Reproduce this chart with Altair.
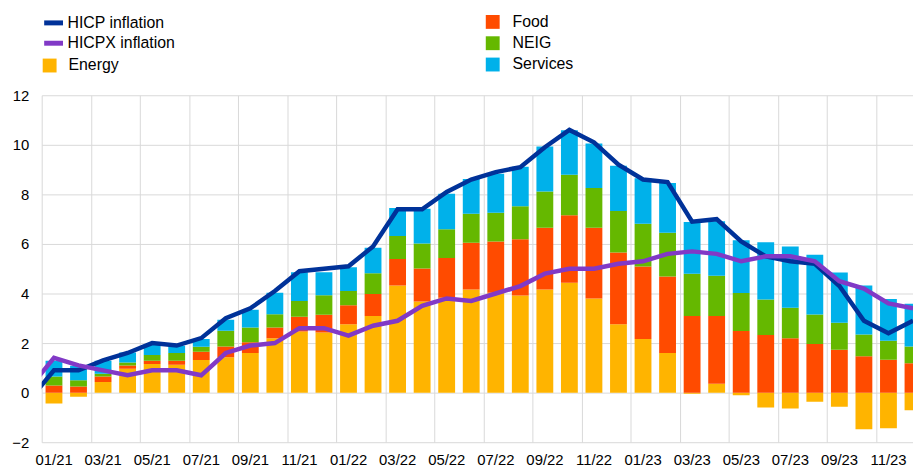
import json
import altair as alt
import pandas as pd

# ---------------- data ----------------
month_labels = [
    "01/21", "02/21", "03/21", "04/21", "05/21", "06/21", "07/21", "08/21", "09/21", "10/21", "11/21", "12/21",
    "01/22", "02/22", "03/22", "04/22", "05/22", "06/22", "07/22", "08/22", "09/22", "10/22", "11/22", "12/22",
    "01/23", "02/23", "03/23", "04/23", "05/23", "06/23", "07/23", "08/23", "09/23", "10/23", "11/23", "12/23",
]
tick_labels = month_labels[::2]

# headline and core inflation (Dec 2020 value first, then Jan 2021 .. Dec 2023)
hicp = [-0.3,
        0.9, 0.9, 1.3, 1.6, 2.0, 1.9, 2.2, 3.0, 3.4, 4.1, 4.9, 5.0,
        5.1, 5.9, 7.4, 7.4, 8.1, 8.6, 8.9, 9.1, 9.9, 10.6, 10.1, 9.2,
        8.6, 8.5, 6.9, 7.0, 6.1, 5.5, 5.3, 5.2, 4.3, 2.9, 2.4, 2.9]
hicpx = [0.2,
         1.4, 1.1, 0.9, 0.7, 0.9, 0.9, 0.7, 1.6, 1.9, 2.0, 2.6, 2.6,
         2.3, 2.7, 2.9, 3.5, 3.8, 3.7, 4.0, 4.3, 4.8, 5.0, 5.0, 5.2,
         5.3, 5.6, 5.7, 5.6, 5.3, 5.5, 5.5, 5.3, 4.5, 4.2, 3.6, 3.4]

# contributions (percentage points), Jan 2021 .. Dec 2023
energy = [-0.44, -0.17, 0.43, 0.96, 1.16, 1.13, 1.32, 1.43, 1.60, 2.19, 2.47, 2.43,
          2.76, 3.09, 4.32, 3.68, 3.83, 4.16, 4.03, 3.92, 4.16, 4.43, 3.80, 2.76,
          2.16, 1.60, -0.05, 0.36, -0.11, -0.60, -0.64, -0.37, -0.57, -1.48, -1.44, -0.71]
food = [0.29, 0.25, 0.22, 0.13, 0.13, 0.16, 0.33, 0.43, 0.43, 0.44, 0.59, 0.71,
        0.77, 0.89, 1.07, 1.33, 1.60, 1.89, 2.07, 2.27, 2.49, 2.73, 2.85, 2.89,
        2.93, 3.09, 3.09, 2.73, 2.49, 2.33, 2.19, 1.96, 1.73, 1.47, 1.33, 1.19]
neig = [0.36, 0.25, 0.11, 0.13, 0.23, 0.31, 0.20, 0.64, 0.60, 0.53, 0.64, 0.79,
        0.57, 0.84, 0.93, 1.01, 1.16, 1.17, 1.16, 1.33, 1.47, 1.63, 1.61, 1.68,
        1.73, 1.76, 1.71, 1.63, 1.53, 1.43, 1.24, 1.19, 1.09, 0.88, 0.76, 0.67]
services = [0.64, 0.58, 0.53, 0.40, 0.44, 0.29, 0.31, 0.44, 0.71, 0.87, 1.16, 0.93,
            0.96, 1.03, 1.13, 1.40, 1.44, 1.40, 1.57, 1.60, 1.81, 1.80, 1.79, 1.83,
            1.83, 2.01, 2.09, 2.20, 2.13, 2.31, 2.47, 2.41, 2.03, 1.97, 1.69, 1.73]

components = ["Energy", "Food", "NEIG", "Services"]
component_colors = ["#FFB400", "#FF4B00", "#65B800", "#00B1EA"]
line_names = ["HICP inflation", "HICPX inflation"]
line_colors = ["#003299", "#8139C6"]

# ---------------- tables ----------------
bar_rows = []
for i, m in enumerate(month_labels):
    for k, (name, vals) in enumerate(zip(components, [energy, food, neig, services])):
        bar_rows.append({"idx": i, "month": m, "component": name, "order": k, "value": vals[i]})
bars_df = pd.DataFrame(bar_rows)

line_rows = []
for name, vals in zip(line_names, [hicp, hicpx]):
    for j, v in enumerate(vals):
        line_rows.append({"idx": j - 1, "series": name, "value": v})
lines_df = pd.DataFrame(line_rows)

# ---------------- styling ----------------
FONT = "Liberation Sans"
GRID = "#d9d9d9"

x_scale = alt.Scale(domain=[-0.5, 35], nice=False, zero=False)
y_scale = alt.Scale(domain=[-2, 12], nice=False, zero=False)

label_expr = json.dumps(tick_labels) + "[round((datum.value + 0.5) / 2)]"
x_axis = alt.Axis(
    values=[-0.5 + 2 * k for k in range(len(tick_labels))],
    labelExpr=label_expr, grid=True, gridColor=GRID, gridWidth=1,
    ticks=False, domain=False, labelOffset=12, labelPadding=11,
    labelFont=FONT, labelFontSize=15, labelColor="#000000",
    labelFlush=False, labelOverlap=False, labelAlign="center",
    title=None,
)
y_axis = alt.Axis(
    values=list(range(-2, 13, 2)), grid=True, gridColor=GRID, gridWidth=1,
    ticks=False, domain=False, labelPadding=13,
    labelFont=FONT, labelFontSize=15, labelColor="#000000",
    labelFlush=False, title=None,
)

def bar_legend(x, y, offset):
    return alt.Legend(
        title=None, orient="none", legendX=x, legendY=y, direction="vertical",
        symbolType="square", symbolSize=196, symbolStrokeWidth=0, symbolOpacity=1,
        labelFont=FONT, labelFontSize=16, labelColor="#000000",
        labelOffset=offset, rowPadding=5.5, padding=0,
    )

def line_legend(y):
    return alt.Legend(
        title=None, orient="none", legendX=0, legendY=y,
        direction="vertical", symbolType="stroke", symbolSize=361,
        symbolStrokeWidth=5, labelFont=FONT, labelFontSize=16,
        labelColor="#000000", labelOffset=2, padding=0,
    )

stacked = alt.Chart(bars_df).transform_stack(
    stack="value", groupby=["idx"], as_=["y0", "y1"],
    sort=[alt.SortField("order", order="ascending")], offset="zero",
).transform_calculate(x0="datum.idx - 0.343", x1="datum.idx + 0.343")

energy_layer = stacked.transform_filter("datum.component == 'Energy'").mark_bar(
    clip=True, strokeWidth=0
).encode(
    x=alt.X("x0:Q", scale=x_scale, axis=x_axis), x2="x1:Q",
    y=alt.Y("y0:Q", scale=y_scale, axis=y_axis), y2="y1:Q",
    fill=alt.Fill("component:N",
                  scale=alt.Scale(domain=components[:1], range=component_colors[:1]),
                  legend=bar_legend(0, -38, 11)),
)

other_layer = stacked.transform_filter("datum.component != 'Energy'").mark_bar(
    clip=True, strokeWidth=0
).encode(
    x=alt.X("x0:Q", scale=x_scale, axis=x_axis), x2="x1:Q",
    y=alt.Y("y0:Q", scale=y_scale, axis=y_axis), y2="y1:Q",
    fill=alt.Fill("component:N",
                  scale=alt.Scale(domain=components[1:], range=component_colors[1:]),
                  legend=bar_legend(447, -82, 12)),
)

def line_layer(k, legend_y):
    return alt.Chart(lines_df).transform_filter(
        alt.datum.series == line_names[k]
    ).mark_line(clip=True, strokeWidth=4.5).encode(
        x=alt.X("idx:Q", scale=x_scale, axis=x_axis),
        y=alt.Y("value:Q", scale=y_scale, axis=y_axis),
        stroke=alt.Stroke("series:N",
                          scale=alt.Scale(domain=[line_names[k]], range=[line_colors[k]]),
                          legend=line_legend(legend_y)),
    )

chart = alt.layer(
    energy_layer, other_layer, line_layer(0, -85), line_layer(1, -64.5)
).resolve_scale(
    fill="independent", stroke="independent"
).properties(
    width=879, height=350,
    autosize=alt.AutoSizeParams(type="none"),
    padding={"left": 34, "top": 86, "right": 0, "bottom": 24},
    background="white",
).configure_view(stroke=None)

chart.save("out.html", embed_options={"renderer": "svg", "actions": False})
